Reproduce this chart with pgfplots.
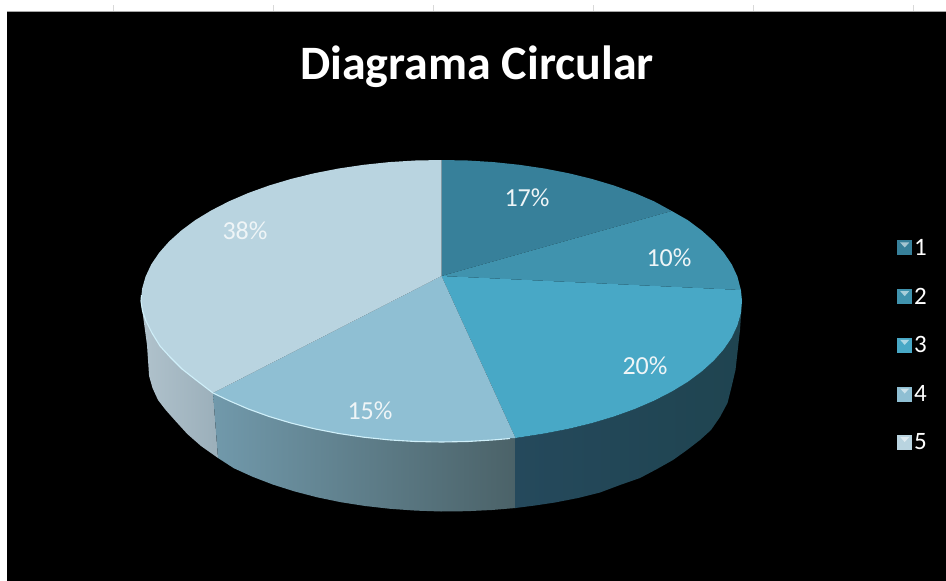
\documentclass[border=0pt]{standalone}
\usepackage{pgfplots}
\pgfplotsset{compat=1.18}
\usepackage{fontspec}
\setmainfont{Carlito}
\definecolor{sa}{HTML}{37809A}
\definecolor{sb}{HTML}{4093AE}
\definecolor{sc}{HTML}{48A8C6}
\definecolor{sd}{HTML}{8FBFD3}
\definecolor{se}{HTML}{B9D4E0}
\definecolor{wea}{HTML}{B0C2CC}
\definecolor{web}{HTML}{9BAFBA}
\definecolor{wda}{HTML}{7199AB}
\definecolor{wdb}{HTML}{4B6268}
\definecolor{wca}{HTML}{25495C}
\definecolor{wcb}{HTML}{1F4450}
\definecolor{rim}{HTML}{D0F0FA}
\begin{document}
\begin{tikzpicture}
\begin{axis}[
  scale only axis, width=946pt, height=581pt,
  xmin=0, xmax=946, ymin=0, ymax=581, y dir=reverse,
  axis lines=none, clip=true,
  legend style={at={(axis cs:897,237)}, anchor=north west, draw=none, fill=none,
    text=white, font=\fontsize{25}{25}\selectfont, row sep=27pt, inner sep=0pt,
    /tikz/every even column/.append style={column sep=7pt}},
  legend cell align=left,
  legend image code/.code={
    \fill[#1,draw=none] (0pt,-7.5pt) rectangle (15pt,7.5pt);
    \fill[white,opacity=.55] (3pt,5.5pt)--(12pt,5.5pt)--(7.5pt,0.5pt)--cycle;
  },
]
% background
\addplot[draw=none,fill=white,forget plot] coordinates {(0,0)(946,0)(946,581)(0,581)};
\addplot[draw=none,fill=black,forget plot] coordinates {(7,12)(946,12)(946,581)(7,581)};
\addplot[color=gray!70,line width=1.5pt,forget plot] coordinates {(7,11.5)(946,11.5)};
\addplot[color=gray!30,line width=1pt,forget plot] coordinates {(113,5)(113,11)};
\addplot[color=gray!30,line width=1pt,forget plot] coordinates {(273,5)(273,11)};
\addplot[color=gray!30,line width=1pt,forget plot] coordinates {(433,5)(433,11)};
\addplot[color=gray!30,line width=1pt,forget plot] coordinates {(593,5)(593,11)};
\addplot[color=gray!30,line width=1pt,forget plot] coordinates {(753,5)(753,11)};
\addplot[color=gray!30,line width=1pt,forget plot] coordinates {(913,5)(913,11)};
% walls
\addplot[draw=none,left color=wea,right color=web,forget plot] coordinates {
(141,301)(142.5,311)(146,321)(152,333)(160,346)(170,357)(182,369)(196,380)(213,393)
(218,458)(201,446)(187.3,434)(175.5,421)(165.7,410)(158,400)(152.5,388)(149.1,376)(147,345)};
\addplot[draw=none,left color=wda,right color=wdb,forget plot] coordinates {
(213,393)(229,400.7)(248.3,409)(269.1,416.5)(291.2,423.1)(314.5,428.8)(338.7,433.5)(363.7,437.2)(389.3,439.9)(415.3,441.5)(441.5,442)(467.7,441.5)(493.7,439.9)(515.5,438)
(515.5,508)(491.9,510)(466.5,511.2)(441,511.5)(415.5,510.6)(390.1,508.8)(365.2,506)(340.8,502.2)(317.2,497.3)(294.5,491.4)(273,484.6)(252.7,476.8)(233.8,468.2)(218,458)};
\addplot[draw=none,left color=wca,right color=wcb,forget plot] coordinates {
(515.5,438)(544.3,433.5)(568.5,428.8)(591.8,423.1)(613.9,416.5)(634.7,409)(654,400.7)(671.7,391.6)(687.7,381.9)(701.7,371.5)(713.8,360.6)(723.9,349.2)(731.8,337.5)(737.4,325.5)(740.9,313.3)(742,301)
(740,330)(735.5,370)(732,385)(727.5,403)(720,417)(711,430)(700,440)(687,450)(673,460)(657,469)(640,478)(620,485)(600,492.5)(578,498)(555,502.5)(535,505.5)(515.5,508)};
% top slices
\addplot[draw=none,fill=sa] coordinates {(441.5,276)(441.5,160)(467.7,160.5)(493.7,162.1)(519.3,164.8)(544.3,168.5)(568.5,173.2)(591.8,178.9)(613.9,185.5)(634.7,193)(654,201.3)(671.7,211)};
\addlegendentry{1}
\addplot[draw=none,fill=sb] coordinates {(441.5,276)(671.7,211)(687.7,220.1)(701.7,230.5)(713.8,241.4)(723.9,252.8)(731.8,264.5)(737.4,276.5)(740.9,290)};
\addlegendentry{2}
\addplot[draw=none,fill=sc] coordinates {(441.5,276)(740.9,290)(742,301)(740.9,313.3)(737.4,325.5)(731.8,337.5)(723.9,349.2)(713.8,360.6)(701.7,371.5)(687.7,381.9)(671.7,391.6)(654,400.7)(634.7,409)(613.9,416.5)(591.8,423.1)(568.5,428.8)(544.3,433.5)(515.5,438)};
\addlegendentry{3}
\addplot[draw=none,fill=sd] coordinates {(441.5,276)(515.5,438)(493.7,439.9)(467.7,441.5)(441.5,442)(415.3,441.5)(389.3,439.9)(363.7,437.2)(338.7,433.5)(314.5,428.8)(291.2,423.1)(269.1,416.5)(248.3,409)(229,400.7)(213,393)};
\addlegendentry{4}
\addplot[draw=none,fill=se] coordinates {(441.5,276)(213,393)(196,380)(182,369)(170,357)(160,346)(152,333)(146,321)(142.5,311)(141,301)(142.1,288.7)(145.6,276.5)(151.2,264.5)(159.1,252.8)(169.2,241.4)(181.3,230.5)(195.3,220.1)(211.3,210.4)(229,201.3)(248.3,193)(269.1,185.5)(291.2,178.9)(314.5,173.2)(338.7,168.5)(363.7,164.8)(389.3,162.1)(415.3,160.5)(441.5,160)};
\addlegendentry{5}
% rim highlight
\addplot[color=rim,line width=1.1pt,forget plot] coordinates {(141.5,295)(141,301)(142.5,311)(146,321)(152,333)(160,346)(170,357)(182,369)(196,380)(213,393)(229,400.7)(248.3,409)(269.1,416.5)(291.2,423.1)(314.5,428.8)(338.7,433.5)(363.7,437.2)(389.3,439.9)(415.3,441.5)(441.5,442)(467.7,441.5)(493.7,439.9)(510,438.5)};
% labels
\node[text=white,font=\fontsize{48}{52}\selectfont\bfseries] at (axis cs:477,67) {Diagrama Circular};
\node[text=white!92!sa,font=\fontsize{26}{28}\selectfont] at (axis cs:527,198) {17\%};
\node[text=white!92!sa,font=\fontsize{26}{28}\selectfont] at (axis cs:669,258) {10\%};
\node[text=white!92!sa,font=\fontsize{26}{28}\selectfont] at (axis cs:645,366) {20\%};
\node[text=white!92!sa,font=\fontsize{26}{28}\selectfont] at (axis cs:370,411) {15\%};
\node[text=white!92!sa,font=\fontsize{26}{28}\selectfont] at (axis cs:245,231) {38\%};
\end{axis}
\end{tikzpicture}
\end{document}
